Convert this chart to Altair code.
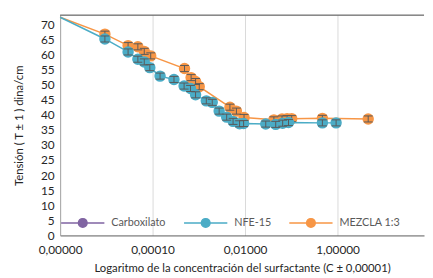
import altair as alt
import pandas as pd

series_names = ["Carboxilato", "NFE-15", "MEZCLA 1:3"]
series_colors = ["#8064A2", "#4BACC6", "#F79646"]

start_conc = 1e-6
start_tension = 72.3
err = 1.0

nfe_conc = [9.3e-6, 2.95e-5, 4.8e-5, 6.6e-5, 8.7e-5, 1.45e-4, 2.9e-4, 4.8e-4, 6.6e-4,
            8.5e-4, 1.45e-3, 1.95e-3, 2.75e-3, 4.0e-3, 5.5e-3, 7.6e-3, 9.3e-3, 2.8e-2,
            4.6e-2, 6.5e-2, 8.7e-2, 0.47, 0.93]
nfe_tension = [65.1, 60.8, 58.4, 57.5, 55.6, 52.8, 51.7, 49.5, 48.7, 46.6, 44.6, 44.1,
               41.2, 39.2, 37.8, 37.0, 37.1, 36.9, 36.8, 37.2, 37.4, 37.3, 37.3]

mez_conc = [9.3e-6, 2.95e-5, 4.8e-5, 6.6e-5, 9.1e-5, 4.9e-4, 6.8e-4, 8.5e-4, 1.02e-3,
            4.7e-3, 6.5e-3, 9.5e-3, 4.2e-2, 6.3e-2, 8.1e-2, 0.102, 0.47, 4.6]
mez_tension = [66.7, 62.9, 62.5, 61.0, 59.5, 55.3, 52.3, 51.0, 49.3, 42.5, 41.2, 39.1,
               38.3, 38.6, 38.7, 38.7, 38.8, 38.6]

x_ticks = [1e-6, 1e-4, 1e-2, 1]
y_ticks = list(range(0, 75, 5))

W, H = 370, 224
FONT = "Lato"

legend_path = ("M-1,0L1,0M-0.2,0a0.2,0.2 0 1,0 0.4,0a0.2,0.2 0 1,0 -0.4,0Z")

x_scale = alt.Scale(type="log", domain=[1e-6, 10 ** 1.87], nice=False)
y_scale = alt.Scale(domain=[0, 73], nice=False)

x_axis = alt.Axis(values=x_ticks,
                  labelExpr="replace(format(datum.value, '.5f'), '.', ',')",
                  grid=True, gridColor="#d9d9d9", gridWidth=1,
                  ticks=False, domainColor="#595959", domainWidth=1,
                  labelFont=FONT, labelFontSize=12, labelColor="#262626",
                  labelPadding=9, labelFlush=False, labelOverlap=False,
                  title="Logaritmo de la  concentración del surfactante  (C ± 0,00001)",
                  titleFont=FONT, titleFontSize=11.5, titleFontWeight="normal",
                  titleColor="#262626", titlePadding=8)
y_axis = alt.Axis(values=y_ticks, grid=False, ticks=False,
                  domainColor="#a6a6a6", domainWidth=1,
                  labelFont=FONT, labelFontSize=12, labelColor="#262626",
                  labelPadding=6, labelOverlap=False,
                  title="Tensión  ( T ± 1 ) dina/cm",
                  titleFont=FONT, titleFontSize=11.5, titleFontWeight="normal",
                  titleColor="#262626", titlePadding=16)


def X():
    return alt.X("c:Q", scale=x_scale, axis=x_axis)


def Yf(field):
    return alt.Y(field, scale=y_scale, axis=y_axis)


color = alt.Color("series:N",
                  scale=alt.Scale(domain=series_names, range=series_colors),
                  legend=alt.Legend(orient="none", legendX=0, legendY=188,
                                    direction="horizontal", title=None,
                                    symbolType=legend_path, symbolSize=1936,
                                    symbolStrokeWidth=1.5, symbolOpacity=1,
                                    labelFont=FONT, labelFontSize=11,
                                    labelColor="#595959", labelOffset=6,
                                    columnPadding=15, padding=0))

layers = []
for name, conc, ten in [("MEZCLA 1:3", mez_conc, mez_tension),
                        ("NFE-15", nfe_conc, nfe_tension)]:
    line_df = pd.DataFrame({"c": [start_conc] + conc, "t": [start_tension] + ten,
                            "series": name})
    pts_df = pd.DataFrame({"c": conc, "t": ten, "series": name})
    pts_df["lo"] = pts_df["t"] - err
    pts_df["hi"] = pts_df["t"] + err
    line = alt.Chart(line_df).mark_line(strokeWidth=1.5).encode(
        x=X(), y=Yf("t:Q"), color=color)
    pts = alt.Chart(pts_df).mark_circle(size=135, opacity=1).encode(
        x=X(), y=Yf("t:Q"), color=color)
    bar = alt.Chart(pts_df).mark_rule(color="#595959", strokeWidth=1).encode(
        x=X(), y=Yf("lo:Q"), y2="hi:Q")
    cap_lo = alt.Chart(pts_df).mark_tick(orient="horizontal", size=9, thickness=1,
                                         color="#595959", opacity=1).encode(
        x=X(), y=Yf("lo:Q"))
    cap_hi = alt.Chart(pts_df).mark_tick(orient="horizontal", size=9, thickness=1,
                                         color="#595959", opacity=1).encode(
        x=X(), y=Yf("hi:Q"))
    layers += [line, pts, bar, cap_lo, cap_hi]

top_border = alt.Chart(pd.DataFrame({"a": [0]})).mark_rule(
    color="#404040", strokeWidth=1).encode(y=alt.value(0), x=alt.value(0), x2=alt.value(W))

chart = alt.layer(*layers, top_border).properties(
    width=W, height=H,
    padding={"left": 6, "top": 4, "right": 0, "bottom": 0}
).configure_view(stroke=None)

chart.save("out.html", embed_options={"renderer": "svg", "actions": False})
